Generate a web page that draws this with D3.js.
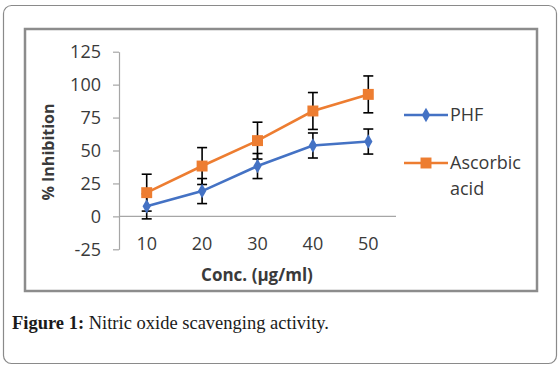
<!DOCTYPE html>
<html>
<head>
<meta charset="utf-8">
<script src="https://cdn.jsdelivr.net/npm/d3@7"></script>
<style>
  body { margin: 0; background: #fff; }
  svg { display: block; }
</style>
</head>
<body>
<svg id="chart" width="560" height="370"></svg>
<script>
// data
var concLabels = ["10", "20", "30", "40", "50"];
var phfValues = [7.6, 19.2, 38.2, 53.8, 56.8];
var phfErr = [9.5, 9.5, 9.5, 9.5, 9.5];
var ascValues = [18.0, 38.2, 57.5, 80.0, 92.6];
var ascErr = [14, 14, 14, 14, 14];
var yTicks = [-25, 0, 25, 50, 75, 100, 125];

var blue = "#4472C4", orange = "#ED7D31";
var fontSans = "'Open Sans', 'Noto Sans', sans-serif";

var svg = d3.select("#chart");

// outer rounded frame
svg.append("rect")
  .attr("x", 3.5).attr("y", 5.5).attr("width", 553).attr("height", 358)
  .attr("rx", 8).attr("ry", 8)
  .attr("fill", "none").attr("stroke", "#8a8a8a").attr("stroke-width", 1.2);

// chart area border
svg.append("rect")
  .attr("x", 25).attr("y", 29).attr("width", 512).attr("height", 262)
  .attr("fill", "#fff").attr("stroke", "#8c8c8c").attr("stroke-width", 2.5);

var x = d3.scaleBand().domain(concLabels).range([119, 396]).padding(0);
var y = d3.scaleLinear().domain([-25, 125]).range([249.3, 51.7]);

// y axis (plain hyphen for negatives, like the original)
var yAxis = svg.append("g")
  .attr("transform", "translate(119,0)")
  .call(d3.axisLeft(y).tickValues(yTicks).tickFormat(function (d) { return String(d); })
    .tickSize(6).tickPadding(12).tickSizeOuter(0));
yAxis.select(".domain").attr("stroke", "#a6a6a6").attr("stroke-width", 1.2);
yAxis.selectAll(".tick line").attr("stroke", "#a6a6a6").attr("stroke-width", 1.2);
yAxis.selectAll(".tick text")
  .attr("font-family", fontSans).attr("font-size", 18).attr("fill", "#3a3a3a");

// horizontal axis at zero
svg.append("line")
  .attr("x1", x.range()[0]).attr("x2", x.range()[1])
  .attr("y1", y(0)).attr("y2", y(0))
  .attr("stroke", "#a6a6a6").attr("stroke-width", 1.2);

// category labels at low position
var xAxis = svg.append("g")
  .attr("transform", "translate(0," + (y(-25) - 12) + ")")
  .call(d3.axisBottom(x).tickSize(0).tickPadding(0));
xAxis.select(".domain").remove();
xAxis.selectAll(".tick text")
  .attr("font-family", fontSans).attr("font-size", 18).attr("fill", "#3a3a3a");

// axis titles
svg.append("text")
  .attr("x", 257).attr("y", 281)
  .attr("text-anchor", "middle")
  .attr("font-family", fontSans).attr("font-size", 17).attr("font-weight", "bold")
  .attr("fill", "#3a3a3a")
  .text("Conc. (µg/ml)");

svg.append("text")
  .attr("transform", "translate(54,152) rotate(-90)")
  .attr("text-anchor", "middle")
  .attr("font-family", fontSans).attr("font-size", 16).attr("font-weight", "bold")
  .attr("fill", "#3a3a3a")
  .text("% Inhibition");

var cx = function (d, i) { return x(concLabels[i]) + x.bandwidth() / 2; };

var series = [
  { name: "Ascorbic acid", vals: ascValues, err: ascErr, color: orange, shape: d3.symbolSquare, size: 120 },
  { name: "PHF", vals: phfValues, err: phfErr, color: blue, shape: d3.symbolDiamond, size: 60 }
];

// error bars
series.forEach(function (s) {
  var g = svg.append("g").attr("stroke", "#000").attr("stroke-width", 1.6);
  s.vals.forEach(function (v, i) {
    var px = cx(v, i);
    var top = y(v + s.err[i]), bot = y(v - s.err[i]);
    g.append("line").attr("x1", px).attr("x2", px).attr("y1", top).attr("y2", bot);
    g.append("line").attr("x1", px - 5).attr("x2", px + 5).attr("y1", top).attr("y2", top);
    g.append("line").attr("x1", px - 5).attr("x2", px + 5).attr("y1", bot).attr("y2", bot);
  });
});

// lines and markers
var line = d3.line().x(cx).y(function (d) { return y(d); });
series.forEach(function (s) {
  svg.append("path")
    .datum(s.vals)
    .attr("d", line)
    .attr("fill", "none").attr("stroke", s.color).attr("stroke-width", 2.6);
  svg.selectAll(null)
    .data(s.vals)
    .enter().append("path")
    .attr("d", d3.symbol().type(s.shape).size(s.size))
    .attr("transform", function (d, i) { return "translate(" + cx(d, i) + "," + y(d) + ")"; })
    .attr("fill", s.color);
});

// legend
var legend = [
  { label: ["PHF"], color: blue, shape: d3.symbolDiamond, size: 60, y: 115 },
  { label: ["Ascorbic", "acid"], color: orange, shape: d3.symbolSquare, size: 120, y: 163 }
];
legend.forEach(function (l) {
  svg.append("line")
    .attr("x1", 404).attr("x2", 448).attr("y1", l.y).attr("y2", l.y)
    .attr("stroke", l.color).attr("stroke-width", 2.6);
  svg.append("path")
    .attr("d", d3.symbol().type(l.shape).size(l.size))
    .attr("transform", "translate(426," + l.y + ")")
    .attr("fill", l.color);
  l.label.forEach(function (t, k) {
    svg.append("text")
      .attr("x", 450).attr("y", l.y + 6 + k * 26)
      .attr("font-family", fontSans).attr("font-size", 18)
      .attr("fill", "#3a3a3a")
      .text(t);
  });
});

// caption
var cap = svg.append("text")
  .attr("x", 12).attr("y", 329)
  .attr("font-family", "'Liberation Serif', 'DejaVu Serif', serif").attr("font-size", 18.5)
  .attr("fill", "#1a1a1a");
cap.append("tspan").attr("font-weight", "bold").text("Figure 1:");
cap.append("tspan").text(" Nitric oxide scavenging activity.");
</script>
</body>
</html>
